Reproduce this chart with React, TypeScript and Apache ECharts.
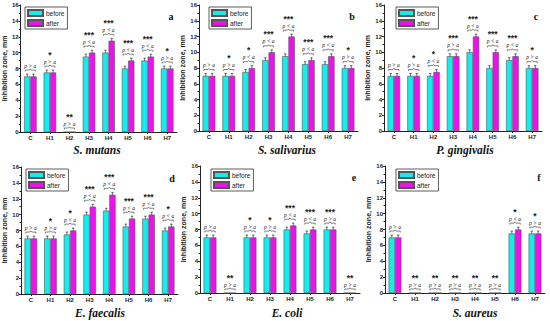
import React, { useEffect, useRef } from "react";
import * as echarts from "echarts";

const CATEGORIES = ["C", "H1", "H2", "H3", "H4", "H5", "H6", "H7"];
const Y_TICKS = [0, 2, 4, 6, 8, 10, 12, 14, 16];
const ERR = 0.3;

// a: S. mutans
const A_BEFORE = [7, 7.5, 0, 9.5, 10, 8, 9, 8];
const A_AFTER = [7, 7.5, 0, 10, 11.5, 9, 9.5, 8];
const A_P = [">", ">", ">", "<", "<", "<", "<", ">"];
const A_STARS = ["", "*", "**", "***", "***", "***", "***", "*"];
// b: S. salivarius
const B_BEFORE = [7, 7, 7.5, 9, 9.5, 8.5, 8.5, 8];
const B_AFTER = [7, 7, 8, 10, 12, 9, 9.5, 8];
const B_P = [">", ">", "<", "<", "<", "<", "<", ">"];
const B_STARS = ["", "*", "*", "***", "***", "***", "***", "*"];
// c: P. gingivalis
const C_BEFORE = [7, 7, 7, 9.5, 10, 8, 9, 8];
const C_AFTER = [7, 7, 7.5, 9.5, 12, 10, 9.5, 8];
const C_P = [">", ">", "<", ">", "<", "<", "<", ">"];
const C_STARS = ["", "*", "*", "***", "***", "***", "***", "*"];
// d: E. faecalis
const D_BEFORE = [7, 7, 7.5, 10, 10.5, 8.5, 9.5, 8];
const D_AFTER = [7, 7, 8, 11, 12.5, 9.5, 10, 8.5];
const D_P = [">", ">", "<", "<", "<", "<", "<", "<"];
const D_STARS = ["", "*", "*", "***", "***", "***", "***", "*"];
// e: E. coli
const E_BEFORE = [7, 0, 7, 7, 8, 7.5, 8, 0];
const E_AFTER = [7, 0, 7, 7, 8.5, 8, 8, 0];
const E_P = [">", ">", ">", ">", "<", "<", ">", ">"];
const E_STARS = ["", "**", "*", "*", "***", "***", "***", "**"];
// f: S. aureus
const F_BEFORE = [7, 0, 0, 0, 0, 0, 7.5, 7.5];
const F_AFTER = [7, 0, 0, 0, 0, 0, 8, 7.5];
const F_P = [">", ">", ">", ">", ">", ">", "<", ">"];
const F_STARS = ["", "**", "**", "**", "**", "**", "*", "*"];

const TITLES = ["S. mutans", "S. salivarius", "P. gingivalis", "E. faecalis", "E. coli", "S. aureus"];
const LETTERS = ["a", "b", "c", "d", "e", "f"];

const PANELS = [
  { before: A_BEFORE, after: A_AFTER, p: A_P, stars: A_STARS },
  { before: B_BEFORE, after: B_AFTER, p: B_P, stars: B_STARS },
  { before: C_BEFORE, after: C_AFTER, p: C_P, stars: C_STARS },
  { before: D_BEFORE, after: D_AFTER, p: D_P, stars: D_STARS },
  { before: E_BEFORE, after: E_AFTER, p: E_P, stars: E_STARS },
  { before: F_BEFORE, after: F_AFTER, p: F_P, stars: F_STARS },
];

// layout (pixels)
const LAYOUT = [
  { left: 20, top: 5, width: 157, height: 127, lx: 25, ly: 7, tx: 97, ty: 150 },
  { left: 199, top: 5, width: 159, height: 126, lx: 209, ly: 7, tx: 287, ty: 150 },
  { left: 384, top: 5, width: 158, height: 126, lx: 396, ly: 7, tx: 465, ty: 150 },
  { left: 21, top: 167, width: 157, height: 127, lx: 26, ly: 169, tx: 100, ty: 313 },
  { left: 200, top: 166, width: 160, height: 127, lx: 211, ly: 169, tx: 287, ty: 313 },
  { left: 385, top: 166, width: 160, height: 127, lx: 396, ly: 169, tx: 475, ty: 313 },
];

const CYAN = "#11eeee";
const MAGENTA = "#ee11ee";
const SANS = "Liberation Sans, Arial, sans-serif";
const SERIF = "Liberation Serif, Times New Roman, serif";

export default function App() {
  const ref = useRef<HTMLDivElement>(null);
  useEffect(() => {
    document.body.style.margin = "0";
    const chart = echarts.init(ref.current!, null, { renderer: "svg" });
    const grid: any[] = [];
    const xAxis: any[] = [];
    const yAxis: any[] = [];
    const legend: any[] = [];
    const series: any[] = [];
    const graphic: any[] = [];

    PANELS.forEach((pn, i) => {
      const L = LAYOUT[i];
      grid.push({ left: L.left, top: L.top, width: L.width, height: L.height });
      xAxis.push({
        type: "category",
        gridIndex: i,
        data: CATEGORIES,
        axisLine: { lineStyle: { color: "#222", width: 1 } },
        axisTick: { show: true, alignWithLabel: true, length: 2, lineStyle: { color: "#222" } },
        axisLabel: { fontSize: 6, fontWeight: "bold", color: "#222", margin: 3, fontFamily: SANS },
      });
      yAxis.push({
        type: "value",
        gridIndex: i,
        min: Y_TICKS[0],
        max: Y_TICKS[Y_TICKS.length - 1],
        interval: 2,
        name: "Inhibition zone, mm",
        nameLocation: "middle",
        nameGap: 12,
        nameTextStyle: { fontSize: 7, fontWeight: "bold", color: "#222", fontFamily: SANS },
        axisLine: { show: true, lineStyle: { color: "#222", width: 1 } },
        axisTick: { show: true, length: 2, lineStyle: { color: "#222" } },
        minorTick: { show: true, splitNumber: 2, length: 1.5, lineStyle: { color: "#222" } },
        splitLine: { show: false },
        axisLabel: { fontSize: 6, fontWeight: "bold", color: "#222", margin: 2, fontFamily: SANS },
      });
      legend.push({
        left: L.lx,
        top: L.ly,
        orient: "vertical",
        data: ["before", "after"],
        icon: "rect",
        itemWidth: 15,
        itemHeight: 6,
        itemGap: 2,
        padding: [2, 3, 2, 2],
        borderColor: "#333",
        borderWidth: 0.8,
        selectedMode: false,
        textStyle: { fontSize: 6.5, color: "#222", fontFamily: SANS, padding: [0, 0, 0, -2] },
      });
      const barCommon = {
        type: "bar",
        xAxisIndex: i,
        yAxisIndex: i,
        barGap: "0%",
        barCategoryGap: "36%",
      };
      series.push({
        ...barCommon,
        name: "before",
        data: pn.before,
        itemStyle: { color: CYAN, borderColor: "#555", borderWidth: 0.6 },
      });
      series.push({
        ...barCommon,
        name: "after",
        data: pn.after,
        itemStyle: { color: MAGENTA, borderColor: "#555", borderWidth: 0.6 },
      });
      // error bars
      const errData: any[] = [];
      pn.before.forEach((v, k) => errData.push([k, v, ERR, -1]));
      pn.after.forEach((v, k) => errData.push([k, v, ERR, 1]));
      series.push({
        type: "custom",
        xAxisIndex: i,
        yAxisIndex: i,
        silent: true,
        encode: { x: 0, y: 1 },
        data: errData,
        renderItem: (params: any, api: any) => {
          const k = api.value(0);
          const v = api.value(1);
          const e = api.value(2);
          const side = api.value(3);
          if (v <= 0) return null;
          const catW = api.size([1, 0])[0];
          const p0 = api.coord([k, v - e]);
          const p1 = api.coord([k, v + e]);
          const x = p0[0] + side * catW * 0.16;
          const style = { stroke: "#333", lineWidth: 0.7 };
          return {
            type: "group",
            children: [
              { type: "line", shape: { x1: x, y1: p0[1], x2: x, y2: p1[1] }, style },
              { type: "line", shape: { x1: x - 1.2, y1: p0[1], x2: x + 1.2, y2: p0[1] }, style },
              { type: "line", shape: { x1: x - 1.2, y1: p1[1], x2: x + 1.2, y2: p1[1] }, style },
            ],
          };
        },
      });
      // significance annotations
      const annData = CATEGORIES.map((c, k) => {
        const m = Math.max(pn.before[k], pn.after[k]);
        return [k, m > 0 ? m + ERR : 0, pn.p[k], pn.stars[k]];
      });
      series.push({
        type: "custom",
        xAxisIndex: i,
        yAxisIndex: i,
        silent: true,
        encode: { x: 0, y: 1 },
        data: annData,
        renderItem: (params: any, api: any) => {
          const k = api.value(0);
          const top = api.value(1);
          const idx = params.dataIndex;
          const ps = annData[idx][2] as string;
          const st = annData[idx][3] as string;
          const pt = api.coord([k, top]);
          const catW = api.size([1, 0])[0];
          const hw = catW * 0.26;
          const x = pt[0];
          const y0 = pt[1] - 4;
          const children: any[] = [
            {
              type: "polyline",
              shape: {
                points: [
                  [x - hw, y0 + 1.5],
                  [x - hw, y0],
                  [x - 1, y0],
                  [x, y0 - 1.2],
                  [x + 1, y0],
                  [x + hw, y0],
                  [x + hw, y0 + 1.5],
                ],
              },
              style: { stroke: "#333", lineWidth: 0.6, fill: null },
            },
            {
              type: "text",
              x: x,
              y: y0 - 4.5,
              style: {
                text: "p " + ps + " a",
                font: "italic 5.5px " + SERIF,
                fill: "#222",
                align: "center",
                verticalAlign: "middle",
              },
            },
          ];
          if (st) {
            children.push({
              type: "text",
              x: x,
              y: y0 - 7,
              style: {
                text: st,
                font: "bold 8.5px " + SANS,
                fill: "#222",
                align: "center",
                verticalAlign: "bottom",
              },
            });
          }
          return { type: "group", children };
        },
      });
      graphic.push({
        type: "text",
        x: L.tx,
        y: L.ty,
        style: {
          text: TITLES[i],
          font: "italic bold 11.5px " + SERIF,
          fill: "#111",
          align: "center",
          verticalAlign: "middle",
        },
      });
      graphic.push({
        type: "text",
        x: L.left + L.width - 6,
        y: L.top + 11,
        style: {
          text: LETTERS[i],
          font: "bold 10px " + SERIF,
          fill: "#111",
          align: "center",
          verticalAlign: "middle",
        },
      });
    });

    chart.setOption({
      animation: false,
      backgroundColor: "#fff",
      grid,
      xAxis,
      yAxis,
      legend,
      series,
      graphic,
    });
    return () => chart.dispose();
  }, []);
  return <div ref={ref} style={{ width: 550, height: 321 }} />;
}
